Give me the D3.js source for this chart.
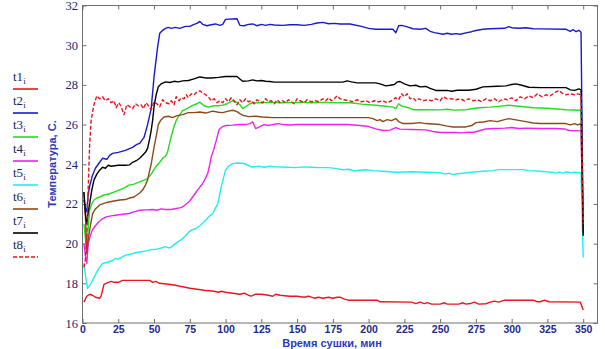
<!DOCTYPE html>
<html>
<head>
<meta charset="utf-8">
<script src="https://cdn.jsdelivr.net/npm/d3@7"></script>
<style>
  body { margin: 0; background: #fff; }
  svg { display: block; }
</style>
</head>
<body>
<svg id="chart" width="605" height="349"></svg>
<script>
// Tick values
const xTicks = [0, 25, 50, 75, 100, 125, 150, 175, 200, 225, 250, 275, 300, 325, 350];
const yTicks = [16, 18, 20, 22, 24, 26, 28, 30, 32];

// Sensor names and colours
const seriesNames = ["t1", "t2", "t3", "t4", "t5", "t6", "t7", "t8"];
const seriesColors = ["#e8161e", "#1a1acd", "#22dd22", "#ee22ee", "#22eeee", "#8c4a1a", "#000000", "#e8161e"];

// Temperature readings, [minute, °C]
const t1 = [[1,17.05],[3,17.35],[5,17.45],[7,17.4],[9,17.3],[12,17.25],[13,17.35],[15,17.95],[18,18.05],[20,18.1],[22,18.05],[25,18.05],[28,18.15],[35,18.15],[40,18.15],[47,18.15],[49,18.05],[51,18.1],[54,18.0],[60,17.95],[65,17.9],[68,17.85],[72,17.8],[75,17.75],[80,17.7],[85,17.65],[92,17.6],[95,17.55],[97,17.6],[100,17.55],[105,17.5],[110,17.45],[113,17.5],[116,17.4],[118,17.35],[121,17.45],[125,17.45],[130,17.4],[133,17.35],[135,17.45],[138,17.4],[145,17.35],[150,17.35],[155,17.3],[158,17.35],[162,17.25],[165,17.3],[168,17.25],[172,17.3],[175,17.25],[178,17.3],[180,17.3],[183,17.2],[186,17.15],[200,17.15],[206,17.15],[208,17.07],[230,17.05],[233,16.98],[236,17.05],[239,16.98],[241,17.03],[244,16.95],[250,16.95],[253,17.02],[255,16.95],[263,16.95],[266,17.02],[268,16.95],[271,16.98],[274,17.05],[277,16.95],[282,16.97],[285,17.05],[288,17.1],[291,17.05],[295,17.15],[315,17.15],[318,17.07],[320,17.07],[323,17.15],[326,17.07],[348,17.05],[350,16.65]];

const t2 = [[1,22.2],[2,21.8],[3,21.6],[4,22.5],[5,22.9],[7,23.45],[9,23.8],[11.5,24.05],[14,24.3],[17,24.25],[19,24.45],[21,24.55],[25,24.6],[30,24.7],[35,24.85],[38,25.0],[40,25.05],[43,25.35],[45.5,26.0],[48,26.8],[50,28.4],[52.5,29.9],[54,30.6],[56,30.75],[58,30.85],[60,30.9],[62,30.85],[65,30.9],[68,30.85],[72,30.95],[75,30.95],[78,31.05],[80,31.1],[82,31.2],[84,31.05],[87,30.98],[90,31.03],[93,31.07],[96,31.0],[98,31.05],[100,31.3],[108,31.33],[110,31.0],[113,30.98],[116,31.05],[119,31.07],[122,30.98],[125,31.05],[128,31.0],[131,31.05],[134,31.02],[140,31.0],[145,31.03],[150,31.03],[155,31.0],[160,31.05],[164,31.12],[168,31.15],[172,31.08],[176,31.1],[180,31.07],[187,31.07],[195,30.95],[200,30.85],[205,30.8],[210,30.8],[217,30.8],[219,30.63],[221,30.98],[223,31.0],[226,30.95],[231,30.83],[236,30.8],[240,30.85],[243,30.7],[246,30.63],[252,30.55],[255,30.6],[258,30.55],[261,30.58],[264,30.55],[268,30.62],[272,30.68],[275,30.74],[280,30.8],[285,30.83],[295,30.85],[298,30.94],[300,30.88],[305,30.85],[310,30.88],[315,30.83],[320,30.82],[338,30.8],[341,30.7],[343,30.78],[345,30.68],[347,30.75],[348.5,30.65],[350,20.5]];

const t3 = [[1,21.0],[2,20.3],[3,19.6],[4,20.8],[5,21.7],[6.5,22.0],[8,22.2],[10,22.3],[12,22.35],[15,22.45],[18.5,22.5],[22,22.6],[25.5,22.7],[29,22.8],[32.5,22.95],[36,23.0],[39.5,23.1],[43,23.2],[45.5,23.28],[48,23.5],[51,23.85],[54,24.1],[56,24.3],[58,24.4],[59.5,24.62],[61,25.1],[62,25.4],[64,25.9],[65.5,26.2],[67,26.4],[70,26.7],[73,26.8],[77,26.97],[80,27.05],[82,27.13],[85,26.95],[88,26.88],[92,26.95],[95,26.95],[98,26.98],[101,27.05],[105,27.2],[108,27.1],[110,27.0],[112,26.8],[114,26.9],[117,27.05],[119,27.1],[125,27.1],[130,27.12],[140,27.1],[150,27.12],[160,27.1],[170,27.12],[180,27.1],[187,27.1],[195,27.03],[205,26.97],[212,26.92],[217,26.88],[219,26.8],[221,27.05],[223,26.93],[228,26.85],[231,26.75],[240,26.75],[250,26.74],[255,26.77],[260,26.73],[268,26.75],[272,26.8],[277,26.85],[285,26.88],[292,26.93],[298,26.97],[305,26.92],[315,26.85],[325,26.82],[338,26.75],[348.5,26.72],[350,20.4]];

const t4 = [[1,20.0],[2,19.4],[3,19.0],[4,20.0],[5.5,20.4],[7,20.7],[9,20.9],[11.5,21.1],[14,21.25],[16.5,21.35],[20,21.4],[23,21.43],[28,21.48],[32.5,21.52],[36,21.6],[40,21.68],[45,21.7],[49,21.72],[52,21.68],[55,21.75],[58,21.72],[62,21.72],[65.5,21.77],[68,21.8],[70,21.85],[72.5,22.0],[75,22.15],[77,22.35],[79.5,22.6],[82,22.85],[84,23.03],[86,23.3],[87.5,23.53],[89,24.0],[90,24.37],[92,24.8],[93.5,25.2],[95.5,25.75],[98,25.9],[100,25.95],[105,25.97],[110,26.0],[114,26.0],[117,26.05],[119,26.13],[121,25.8],[124,25.9],[127,26.0],[130,25.95],[133,26.0],[137,26.05],[140,26.0],[145,25.98],[150,26.0],[160,26.0],[175,26.0],[185,26.0],[194,25.95],[200,25.9],[205,25.78],[210,25.7],[215,25.72],[219,25.85],[222,25.77],[230,25.75],[240,25.73],[245,25.65],[250,25.6],[260,25.6],[265,25.58],[270,25.62],[273,25.6],[278,25.7],[282,25.78],[288,25.8],[295,25.82],[300,25.85],[305,25.8],[310,25.82],[320,25.8],[330,25.8],[337,25.78],[340,25.7],[348.5,25.68],[350,20.6]];

const t5 = [[1,19.0],[2,18.4],[3.5,17.75],[5,17.9],[6,18.0],[8,18.3],[9.5,18.5],[11,18.7],[12.5,18.85],[14,19.0],[17,19.05],[19,19.1],[21,19.15],[23,19.25],[25,19.22],[27,19.3],[30,19.42],[33,19.45],[35,19.5],[38,19.55],[42,19.6],[45,19.65],[48,19.7],[52,19.72],[55,19.78],[58,19.85],[60,19.78],[62,19.82],[64,19.95],[66,20.05],[68,20.15],[70,20.26],[72,20.4],[74.5,20.6],[77,20.7],[79,20.75],[82,20.9],[85,21.1],[87,21.25],[89,21.4],[91,21.52],[93,21.8],[94.5,22.0],[96,22.5],[97,22.86],[98.5,23.3],[100,23.7],[102,23.9],[105,24.03],[108,24.06],[112,24.05],[114,24.0],[117,23.9],[119,23.86],[123,23.9],[127,23.85],[131,23.9],[135,23.87],[140,23.86],[148,23.83],[155,23.87],[160,23.85],[165,23.83],[172,23.83],[178,23.78],[182,23.72],[186,23.75],[190,23.66],[194,23.7],[198,23.72],[203,23.68],[210,23.65],[220,23.6],[230,23.62],[240,23.6],[250,23.58],[253,23.5],[256,23.55],[259,23.48],[262,23.52],[266,23.55],[272,23.6],[280,23.65],[287,23.68],[291,23.73],[300,23.73],[308,23.73],[312,23.68],[318,23.66],[324,23.62],[328,23.6],[331,23.55],[333,23.6],[336,23.55],[338,23.62],[341,23.58],[344,23.6],[348.5,23.58],[350,19.3]];

const t6 = [[1,22.6],[2,21.5],[3,19.5],[4,20.2],[5.5,20.9],[7,21.5],[9,21.75],[10.5,21.85],[12,21.95],[14,22.0],[16,22.05],[18.5,22.1],[22,22.15],[26,22.2],[30,22.22],[33,22.3],[36,22.35],[38,22.45],[40,22.55],[42,22.7],[44,22.95],[45.5,23.2],[47,23.7],[48,24.0],[50,24.85],[51.5,25.4],[53,26.0],[54.5,26.2],[57,26.38],[60,26.42],[63,26.35],[66,26.45],[70,26.5],[74,26.6],[78,26.6],[82,26.63],[86,26.58],[91,26.68],[95,26.62],[98,26.6],[102,26.68],[105,26.72],[108,26.65],[110,26.55],[112,26.47],[116,26.4],[121,26.42],[126,26.38],[133,26.35],[150,26.35],[180,26.35],[200,26.35],[203,26.3],[206,26.2],[208,26.25],[210,26.15],[213,26.25],[216,26.2],[219,26.3],[221,26.15],[224,26.05],[230,26.05],[236,26.1],[240,26.05],[245,26.03],[250,26.0],[255,25.92],[259,25.88],[268,25.88],[272,25.95],[275,26.1],[280,26.13],[285,26.2],[290,26.15],[295,26.25],[298,26.3],[302,26.25],[306,26.2],[310,26.15],[315,26.08],[320,26.05],[330,26.05],[338,26.05],[341,25.98],[344,26.05],[346,25.98],[348.5,26.05],[350,20.5]];

const t7 = [[1,22.6],[2,21.5],[3,21.0],[4,21.6],[5,22.0],[6.5,22.7],[8,23.2],[10,23.5],[12,23.7],[14,23.85],[16,23.8],[18,23.95],[20,23.9],[25,23.95],[30,23.95],[33,23.97],[35,24.1],[38,24.2],[40,24.3],[42,24.45],[44,24.6],[45.5,24.8],[47,25.3],[48,25.7],[49,26.2],[50,26.9],[51.5,27.5],[53,27.9],[55,28.05],[58,28.15],[61,28.12],[64,28.18],[67,28.15],[70,28.2],[74,28.22],[78,28.3],[82,28.4],[86,28.35],[90,28.35],[95,28.38],[100,28.42],[108,28.42],[110,28.3],[112,28.18],[116,28.2],[119,28.25],[122,28.2],[125,28.22],[128,28.18],[131,28.17],[134,28.14],[150,28.14],[182,28.14],[185,28.2],[188,28.15],[192,28.1],[205,28.1],[208,28.05],[212,27.95],[215,27.98],[218,28.02],[220,28.15],[222,28.17],[225,28.05],[229,27.95],[233,27.98],[236,27.9],[240,27.92],[243,27.82],[247,27.72],[255,27.72],[258,27.68],[262,27.73],[270,27.73],[275,27.78],[280,27.9],[290,27.93],[296,27.95],[300,28.02],[303,28.05],[307,27.98],[312,27.88],[320,27.86],[338,27.86],[341,27.75],[344,27.72],[347,27.8],[348.5,27.75],[350,20.4]];

const t8 = [[1,18.8],[2,19.2],[3,20.5],[4,22.8],[5,25.0],[6,26.2],[8,27.0],[10,27.45],[12,27.3],[14,27.4],[16,27.2],[18,27.3],[20,27.1],[22,27.2],[23.5,26.85],[25.5,27.1],[27,26.9],[29,26.5],[31,27.0],[33,26.9],[35,26.8],[37,27.05],[39,26.95],[41,27.0],[42.5,26.8],[44.5,27.1],[46,26.95],[48,26.75],[50,27.15],[52,27.05],[54,26.9],[56,27.25],[58,27.1],[60.5,27.05],[62,27.2],[64,27.0],[65.5,27.4],[67.5,27.2],[69,27.35],[71,27.3],[72.5,27.5],[74,27.35],[76,27.55],[78,27.5],[80,27.65],[82,27.7],[84,27.6],[86,27.5],[88,27.4],[90,27.2],[92,27.3],[94,27.1],[96,27.2],[98,27.1],[100,27.3],[102,27.15],[104,27.35],[106,27.2],[108,27.0],[110,27.25],[112,27.1],[114,27.3],[116,27.15],[118,27.2],[120,27.05],[122,27.25],[124,27.15],[126,27.1],[128,27.3],[130,27.15],[132,27.2],[134,27.05],[136,27.25],[138,27.1],[140,27.2],[142,27.1],[144,27.25],[146,27.15],[148,27.05],[150,27.3],[152,27.2],[155,27.1],[157,27.25],[160,27.15],[163,27.2],[165,27.15],[168,27.3],[170,27.2],[172,27.35],[174,27.2],[176,27.3],[178,27.45],[180,27.3],[183,27.25],[186,27.2],[189,27.15],[192,27.25],[195,27.15],[198,27.2],[201,27.1],[204,27.2],[207,27.15],[210,27.2],[213,27.1],[216,27.2],[219,27.35],[221,27.25],[223,27.55],[225,27.4],[227,27.55],[229,27.3],[231,27.35],[233,27.2],[235,27.3],[238,27.2],[241,27.25],[244,27.2],[247,27.3],[250,27.2],[252,27.4],[255,27.3],[258,27.3],[261,27.25],[264,27.3],[267,27.2],[270,27.3],[273,27.2],[276,27.25],[279,27.15],[282,27.3],[285,27.2],[288,27.3],[291,27.15],[294,27.3],[297,27.25],[300,27.35],[303,27.2],[306,27.4],[309,27.3],[312,27.45],[315,27.35],[318,27.55],[321,27.4],[324,27.5],[327,27.45],[330,27.6],[333,27.72],[335,27.6],[338,27.5],[341,27.55],[344,27.5],[346,27.55],[348.5,27.5],[350,21.0]];

const series = [t1, t2, t3, t4, t5, t6, t7, t8];

const svg = d3.select("#chart");
const plotLeft = 82.5, plotRight = 597.5, plotTop = 5.5, plotBottom = 323;

const x = d3.scaleLinear().domain([0, 360]).range([plotLeft, plotRight]);
const y = d3.scaleLinear().domain([16, 32]).range([plotBottom, plotTop]);

// Plot frame
svg.append("rect")
  .attr("x", plotLeft).attr("y", plotTop)
  .attr("width", plotRight - plotLeft).attr("height", plotBottom - plotTop)
  .attr("fill", "none").attr("stroke", "#6e6e6e").attr("stroke-width", 1);

// Axes with inward ticks on all four sides
const gx = svg.append("g").attr("transform", `translate(0,${plotBottom})`)
  .call(d3.axisBottom(x).tickValues(xTicks).tickSizeInner(-4).tickSizeOuter(0).tickPadding(2.5));
gx.select(".domain").remove();
gx.selectAll("line").attr("stroke", "#6e6e6e");
gx.selectAll("text")
  .attr("fill", "#1d2a8c")
  .style("font-family", "'Liberation Sans', Arial, sans-serif")
  .style("font-weight", "bold")
  .style("font-size", "10.5px");

const gxTop = svg.append("g").attr("transform", `translate(0,${plotTop})`)
  .call(d3.axisTop(x).tickValues(xTicks).tickSizeInner(-4).tickSizeOuter(0).tickFormat(""));
gxTop.select(".domain").remove();
gxTop.selectAll("line").attr("stroke", "#6e6e6e");

const gy = svg.append("g").attr("transform", `translate(${plotLeft},0)`)
  .call(d3.axisLeft(y).tickValues(yTicks).tickSizeInner(-4).tickSizeOuter(0).tickPadding(4.5));
gy.select(".domain").remove();
gy.selectAll("line").attr("stroke", "#6e6e6e");
gy.selectAll("text")
  .attr("fill", "#1e1e6e")
  .style("font-family", "'Liberation Serif', 'Times New Roman', serif")
  .style("font-size", "12.5px");

const gyRight = svg.append("g").attr("transform", `translate(${plotRight},0)`)
  .call(d3.axisRight(y).tickValues(yTicks).tickSizeInner(-4).tickSizeOuter(0).tickFormat(""));
gyRight.select(".domain").remove();
gyRight.selectAll("line").attr("stroke", "#6e6e6e");

// Axis titles
svg.append("text")
  .attr("x", 332).attr("y", 346.5)
  .attr("text-anchor", "middle")
  .attr("fill", "#2a3ac0")
  .style("font-family", "'Liberation Sans', Arial, sans-serif")
  .style("font-weight", "bold")
  .style("font-size", "11px")
  .text("Время сушки, мин");

svg.append("text")
  .attr("transform", "translate(56,164) rotate(-90)")
  .attr("text-anchor", "middle")
  .attr("fill", "#2a3ac0")
  .style("font-family", "'Liberation Sans', Arial, sans-serif")
  .style("font-weight", "bold")
  .style("font-size", "11px")
  .text("Температура, С.");

// Temperature curves
const line = d3.line().x(d => x(d[0])).y(d => y(d[1]));
svg.append("g").selectAll("path")
  .data(series)
  .join("path")
  .attr("d", line)
  .attr("fill", "none")
  .attr("stroke", (d, i) => seriesColors[i])
  .attr("stroke-width", 1.4)
  .attr("stroke-linejoin", "round")
  .attr("stroke-dasharray", (d, i) => i === 7 ? "4,2" : null);

// Legend
const legend = svg.append("g").selectAll("g")
  .data(seriesNames)
  .join("g")
  .attr("transform", (d, i) => `translate(13,${81 + i * 24})`);

const label = legend.append("text")
  .attr("fill", "#1e1e6e")
  .style("font-family", "'Liberation Serif', 'Times New Roman', serif")
  .style("font-size", "13px");
label.append("tspan").text(d => d);
label.append("tspan").attr("dy", 3).style("font-size", "9px").text("i");

legend.append("line")
  .attr("x1", 0).attr("x2", 25)
  .attr("y1", 8).attr("y2", 8)
  .attr("stroke", (d, i) => seriesColors[i])
  .attr("stroke-width", 1.6)
  .attr("stroke-dasharray", (d, i) => i === 7 ? "4,2" : null);
</script>
</body>
</html>
